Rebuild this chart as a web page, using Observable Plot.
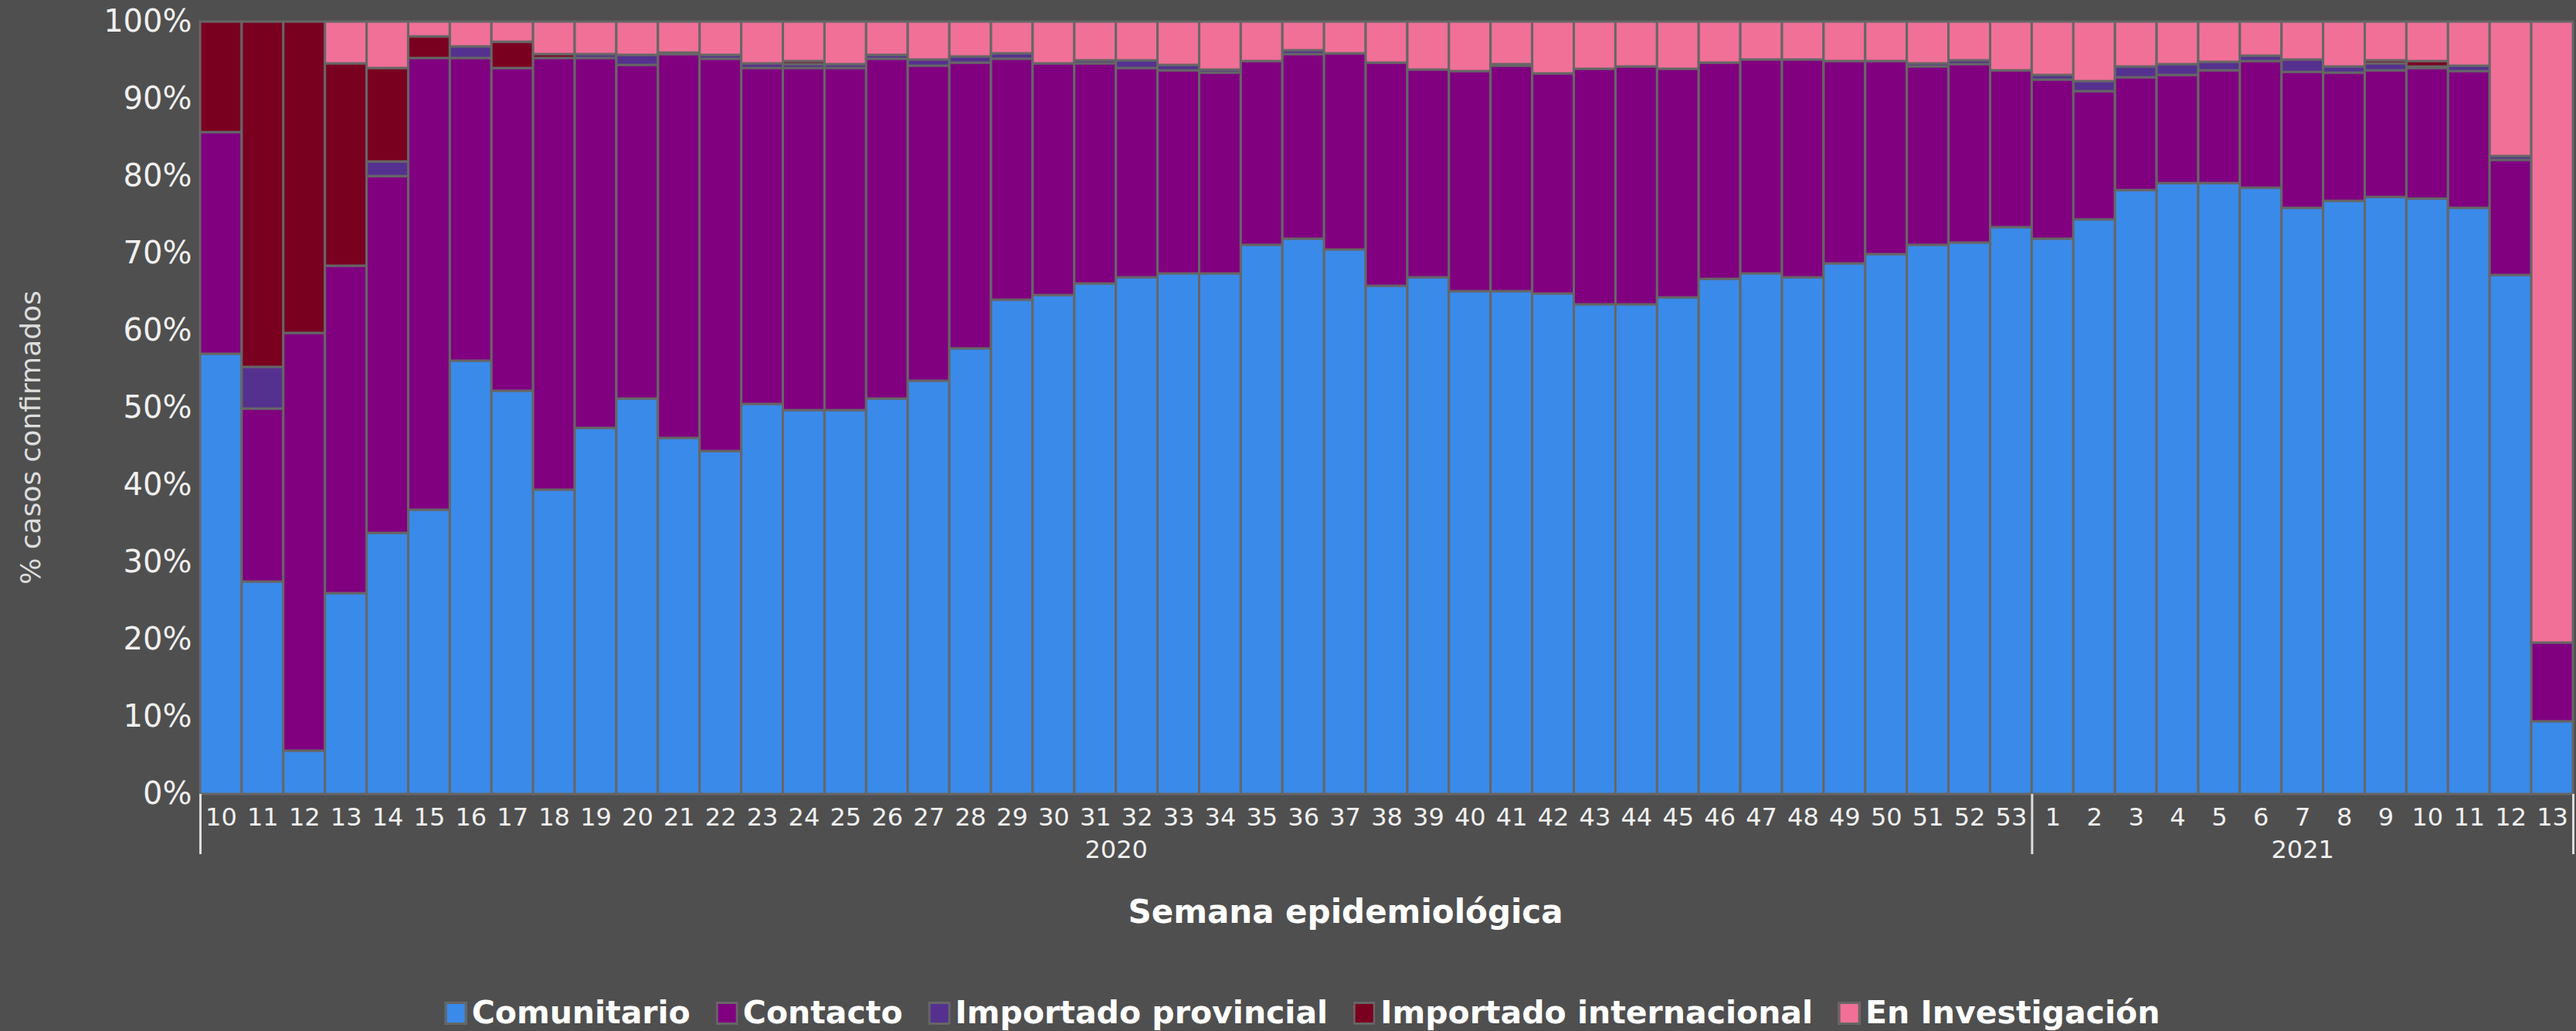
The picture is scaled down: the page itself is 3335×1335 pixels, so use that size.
<!DOCTYPE html>
<html>
<head>
<meta charset="utf-8">
<script src="https://cdn.jsdelivr.net/npm/d3@7"></script>
<script src="https://cdn.jsdelivr.net/npm/@observablehq/plot@0.6"></script>
<style>
  html, body { margin: 0; padding: 0; background: #4f4f4f; }
  #wrap { position: relative; width: 3335px; height: 1335px; background: #4f4f4f; font-family: "DejaVu Sans", sans-serif; overflow: hidden; }
  #xtitle { position: absolute; top: 1160px; left: 1742px; transform: translateX(-50%); font-size: 42px; line-height: 42px; font-weight: bold; color: #fff; white-space: nowrap; }
  #legend { position: absolute; top: 1291px; left: 1686px; transform: translateX(-50%); display: flex; gap: 33px; white-space: nowrap; }
  .item { display: inline-flex; align-items: center; font-size: 41px; line-height: 41px; font-weight: bold; color: #fff; }
  .sw { display: inline-block; width: 23px; height: 24px; border: 3px solid #666; margin-right: 6px; }
</style>
</head>
<body>
<div id="wrap">
  <div id="chart"></div>
  <div id="xtitle">Semana epidemiológica</div>
  <div id="legend"></div>
</div>
<script>
// ---- data ----
const semanas2020 = ["10","11","12","13","14","15","16","17","18","19","20","21","22","23","24","25","26","27","28","29","30","31","32","33","34","35","36","37","38","39","40","41","42","43","44","45","46","47","48","49","50","51","52","53"];
const semanas2021 = ["1","2","3","4","5","6","7","8","9","10","11","12","13"];
const anios = ["2020", "2021"];

const categorias = ["Comunitario", "Contacto", "Importado provincial", "Importado internacional", "En Investigación"];
const colores = ["#3a8aea", "#800080", "#55318f", "#7a0020", "#f07098"];

const comunitario = [57.0,27.5,5.6,26.0,33.8,36.8,56.1,52.2,39.4,47.4,51.2,46.1,44.4,50.5,49.7,49.7,51.2,53.5,57.7,64.0,64.6,66.1,66.9,67.4,67.4,71.1,71.9,70.5,65.8,66.9,65.1,65.1,64.8,63.4,63.4,64.3,66.7,67.4,66.9,68.7,69.9,71.1,71.4,73.4,
  71.9,74.4,78.2,79.1,79.1,78.5,75.9,76.8,77.3,77.1,75.9,67.2,9.4];
const contacto = [28.7,22.4,54.1,42.4,46.2,58.5,39.2,41.8,55.9,47.9,43.2,49.7,50.8,43.5,44.3,44.3,44.0,40.8,37.0,31.2,30.0,28.5,27.1,26.3,26.0,23.8,23.9,25.4,28.9,26.9,28.5,29.2,28.5,30.5,30.8,29.6,28.0,27.7,28.2,26.2,25.0,23.1,23.1,20.3,
  20.6,16.6,14.6,14.0,14.6,16.4,17.6,16.6,16.4,16.9,17.7,14.9,10.2];
const importadoProvincial = [0,5.4,0,0,1.9,0,1.5,0,0,0.5,1.3,0.2,0.5,0.6,0.5,0.5,0.5,0.8,0.8,0.7,0,0.4,1.0,0.7,0.4,0,0.5,0,0,0,0,0.2,0,0,0,0,0,0,0,0,0,0.4,0.5,0,
  0.6,1.3,1.4,1.4,1.1,0.7,1.6,0.8,0.9,0.2,0.7,0.5,0];
const importadoInternacional = [14.3,44.7,40.3,26.2,12.1,2.8,0,3.4,0.5,0,0,0,0,0,0.4,0,0,0,0,0,0,0,0,0,0,0,0,0,0,0,0,0,0,0,0,0,0,0,0,0,0,0,0,0,
  0,0,0,0,0,0,0,0,0.4,0.7,0,0,0];
const enInvestigacion = [0,0,0,5.4,6.0,1.9,3.2,2.6,4.2,4.2,4.3,4.0,4.3,5.4,5.1,5.5,4.3,4.9,4.5,4.1,5.4,5.0,5.0,5.6,6.2,5.1,3.7,4.1,5.3,6.2,6.4,5.5,6.7,6.1,5.8,6.1,5.3,4.9,4.9,5.1,5.1,5.4,5.0,6.3,
  6.9,7.7,5.8,5.5,5.2,4.4,4.9,5.8,5.0,5.1,5.7,17.4,80.4];

// ---- build tables ----
const semanas = [...semanas2020, ...semanas2021];
const series = [comunitario, contacto, importadoProvincial, importadoInternacional, enInvestigacion];
const rows = [];
semanas.forEach((s, i) => {
  let acc = 0;
  series.forEach((vals, k) => {
    const v = vals[i];
    if (v > 0) rows.push({i, semana: s, cat: categorias[k], y1: acc, y2: acc + v});
    acc += v;
  });
});
const grupos = [
  {anio: anios[0], start: 0, end: semanas2020.length},
  {anio: anios[1], start: semanas2020.length, end: semanas2020.length + semanas2021.length}
];
const limites = [0, ...grupos.map(g => g.end)];
const weekRows = semanas.map((s, i) => ({i, s}));

const chart = Plot.plot({
  width: 3335,
  height: 1130,
  marginTop: 28,
  marginBottom: 102,
  marginLeft: 259,
  marginRight: 4,
  style: {background: "#4f4f4f", color: "#f0f0f0", fontFamily: "DejaVu Sans, sans-serif", overflow: "visible"},
  x: {domain: [0, semanas.length]},
  y: {domain: [0, 100]},
  color: {domain: categorias, range: colores},
  marks: [
    Plot.rect(rows, {x1: "i", x2: d => d.i + 1, y1: "y1", y2: "y2", fill: "cat", stroke: "#666", strokeWidth: 3}),
    Plot.axisY({ticks: d3.range(0, 101, 10), tickFormat: d => d + "%", tickSize: 0, tickPadding: 11, fontSize: 40, fill: "#f0f0f0", label: null}),
    Plot.axisX({ticks: limites, tickSize: 78, tickFormat: () => "", stroke: "#dddddd", strokeWidth: 3, label: null}),
    Plot.text(weekRows, {x: d => d.i + 0.5, text: "s", frameAnchor: "bottom", lineAnchor: "middle", dy: 30, fontSize: 32, fill: "#f0f0f0"}),
    Plot.text(grupos, {x: d => (d.start + d.end) / 2, text: "anio", frameAnchor: "bottom", lineAnchor: "middle", dy: 72, fontSize: 32, fill: "#f0f0f0"}),
    Plot.text(["% casos confirmados"], {text: d => d, frameAnchor: "left", textAnchor: "middle", lineAnchor: "middle", rotate: -90, dx: -219, dy: 38, fontSize: 36, fill: "#dddddd"})
  ]
});
document.getElementById("chart").appendChild(chart);

// legend
const legend = document.getElementById("legend");
categorias.forEach((c, k) => {
  const it = document.createElement("span");
  it.className = "item";
  const sw = document.createElement("span");
  sw.className = "sw";
  sw.style.background = colores[k];
  it.appendChild(sw);
  it.appendChild(document.createTextNode(c));
  legend.appendChild(it);
});
</script>
</body>
</html>
